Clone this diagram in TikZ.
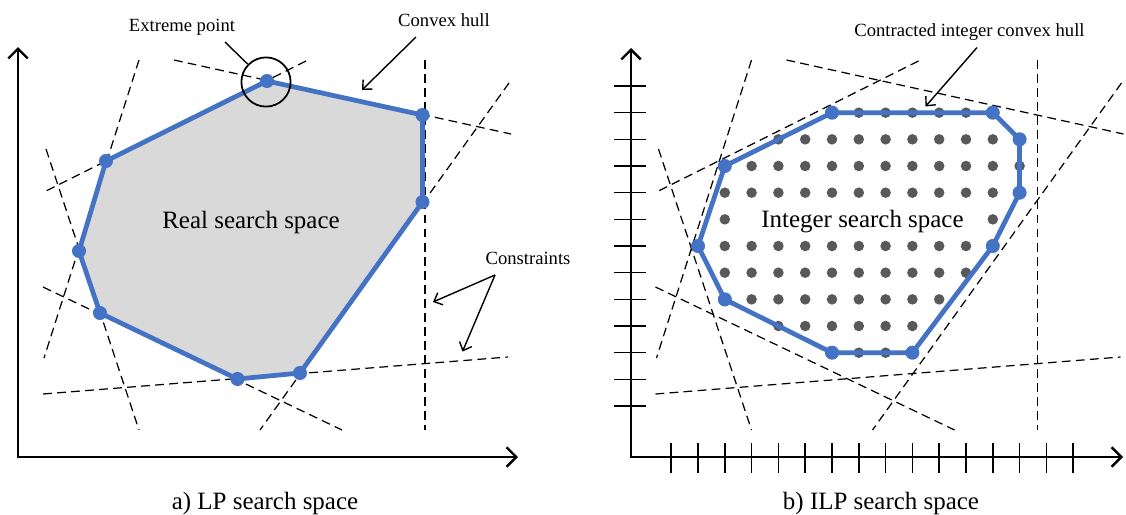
\documentclass[tikz,border=0pt]{standalone}
\usepackage{fontspec}
\setmainfont{Liberation Serif}
\usetikzlibrary{arrows.meta}
\definecolor{hullblue}{HTML}{4472C4}
\definecolor{spacegray}{HTML}{D9D9D9}
\definecolor{dotgray}{HTML}{595959}
\tikzset{
  axisline/.style={line width=1.4pt, {Straight Barb[length=5.5pt,width=11pt]}-{Straight Barb[length=5.5pt,width=11pt]}},
  axtick/.style={line width=0.9pt},
  constraint/.style={dash pattern=on 5pt off 3pt, line width=0.7pt},
  hull/.style={draw=hullblue, line width=2.7pt, line join=round},
  vertexdot/.style={fill=hullblue},
  intdot/.style={fill=dotgray},
  lbl/.style={font=\fontsize{10.6}{12}\selectfont, inner sep=1pt},
  biglbl/.style={font=\fontsize{14.2}{17}\selectfont, inner sep=1pt},
  pointer/.style={line width=0.8pt, -{Straight Barb[length=4pt,width=7.5pt]}}
}

\begin{document}
\begin{tikzpicture}[x=0.02cm, y=-0.02cm]
\useasboundingbox (0,0) rectangle (1126,514);

% constraints, same set in both panels
\foreach \dx in {0,612.5}{
  \begin{scope}[shift={(\dx,0)}]
    \draw[constraint] (174,60) -- (511,134);
    \draw[constraint] (306,61) -- (44,192);
    \draw[constraint] (425,60) -- (425,430);
    \draw[constraint] (509,83) -- (260,430);
    \draw[constraint] (139,60) -- (44,358);
    \draw[constraint] (46,149) -- (139,430);
    \draw[constraint] (43,287) -- (342,430);
    \draw[constraint] (43,394) -- (508,357);
  \end{scope}
}

% a) LP
\draw[axisline] (18,47) -- (18,457) -- (518,457);
\filldraw[hull, fill=spacegray] (267,81) -- (422.5,115) -- (422.5,202) -- (300,373)
  -- (237.5,379) -- (100,313) -- (79,251) -- (106,161) -- cycle;
\foreach \p in {(267,81),(422.5,115),(422.5,202),(300,373),(237.5,379),(100,313),(79,251),(106,161)}
  \fill[vertexdot] \p circle[radius=4pt];
\node[draw, circle, line width=1pt, minimum size=28pt, inner sep=0pt] (expt) at (266,82) {};

\node[lbl] (extreme) at (182,27) {Extreme point};
\node[lbl] (convex) at (444,20) {Convex hull};
\node[lbl] (constr) at (528,258.5) {Constraints};
\node[biglbl] (real) at (251,222) {Real search space};
\node[biglbl] (capa) at (265,503) {a) LP search space};

\coordinate (eptail) at (225,42);
\coordinate (cvtail) at (416,37);
\coordinate (cvtip) at (362,90);
\coordinate (cstail) at (495,275);
\coordinate (cstipa) at (433,302);
\coordinate (cstipb) at (462.5,351.5);
\draw[line width=0.8pt] (eptail) -- (expt);
\draw[pointer] (cvtail) -- (cvtip);
\draw[pointer] (cstail) -- (cstipa);
\draw[pointer] (cstail) -- (cstipb);

% b) ILP
\draw[axisline] (631,48) -- (631,457) -- (1123,457);
\foreach \k in {0,...,12}
  \draw[axtick] (614,{86+26.67*\k}) -- (646,{86+26.67*\k});
\foreach \i in {0,...,15}
  \draw[axtick] ({671.2+26.8*\i},443) -- ({671.2+26.8*\i},473);

\foreach \k/\is in {1/{7,...,11}, 2/{4,...,12}, 3/{3,...,13}, 4/{2,...,12}, 5/{2,12},
                    6/{2,...,11}, 7/{2,...,11}, 8/{3,...,10}, 9/{4,...,9}, 10/{7,8}}
  \foreach \i in \is
    \fill[intdot] ({671.2+26.8*\i},{86+26.67*\k}) circle[radius=3pt];

\draw[hull] (832,112.7) -- (992.8,112.7) -- (1019.6,139.3) -- (1019.6,192.7) -- (992.8,246)
  -- (912.4,352.7) -- (832,352.7) -- (724.8,299.4) -- (698,246) -- (724.8,166) -- cycle;
\foreach \p in {(832,112.7),(992.8,112.7),(1019.6,139.3),(1019.6,192.7),(992.8,246),
                (912.4,352.7),(832,352.7),(724.8,299.4),(698,246),(724.8,166)}
  \fill[vertexdot] \p circle[radius=4pt];

\node[lbl] (contracted) at (969.5,32) {Contracted integer convex hull};
\node[biglbl] (integer) at (862.5,222) {Integer search space};
\node[biglbl] (capb) at (881,503) {b) ILP search space};

\coordinate (cotail) at (977,47.5);
\coordinate (cotip) at (925.5,106.5);
\draw[pointer] (cotail) -- (cotip);
\end{tikzpicture}
\end{document}
